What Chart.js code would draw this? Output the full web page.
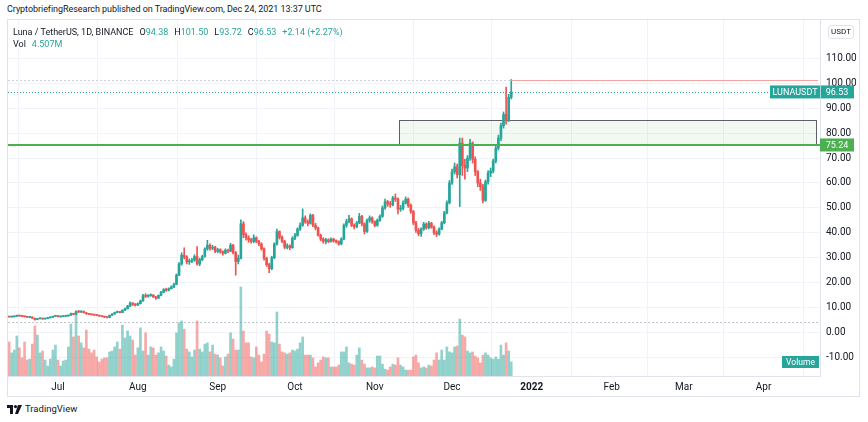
<!DOCTYPE html>
<html>
<head>
<meta charset="utf-8">
<script src="https://cdn.jsdelivr.net/npm/chart.js@4.4.1/dist/chart.umd.min.js"></script>
<style>
  body { margin: 0; width: 868px; height: 422px; background: #fff; position: relative; overflow: hidden;
         font-family: Roboto, "Liberation Sans", sans-serif; color: #131722; }
  #title { position: absolute; left: 7px; top: 4px; font-size: 9px; letter-spacing: -0.05px; white-space: nowrap; }
  #frame { position: absolute; left: 7px; top: 19px; width: 853px; height: 378px; border: 1px solid #e0e3eb; box-sizing: border-box; }
  #wrap { position: absolute; left: 8px; top: 20px; width: 852px; height: 375px; }
  #legend { position: absolute; left: 13px; top: 26px; font-size: 9px; line-height: 12px; white-space: nowrap; }
  #legend .v { color: #26a69a; }
  #legend span.k { margin-left: 6px; }
  #usdt { position: absolute; left: 828px; top: 25px; width: 24px; height: 12px; border: 1px solid #e0e3eb; border-radius: 3px;
          font-size: 8px; line-height: 12px; text-align: center; background: #fff; }
  #tv { position: absolute; left: 7px; top: 403px; font-size: 9.5px; line-height: 12px; display: flex; align-items: center; gap: 3px; }
</style>
</head>
<body>
<div id="title">CryptobriefingResearch published on TradingView.com, Dec 24, 2021 13:37 UTC</div>
<div id="frame"></div>
<div id="wrap"><canvas id="myChart"></canvas></div>
<div id="legend">
  <div>Luna / TetherUS, 1D, BINANCE<span class="k">O<span class="v">94.38</span></span><span class="k">H<span class="v">101.50</span></span><span class="k">L<span class="v">93.72</span></span><span class="k">C<span class="v">96.53</span></span><span class="k v">+2.14 (+2.27%)</span></div>
  <div>Vol<span class="k v">4.507M</span></div>
</div>
<div id="usdt">USDT</div>
<div id="tv">
  <svg width="15" height="9" viewBox="0 0 15 9"><rect x="0" y="0" width="6" height="3" fill="#131722"/><rect x="3" y="0" width="3" height="9" fill="#131722"/><circle cx="8.5" cy="1.6" r="1.6" fill="#131722"/><polygon points="11,0 15,0 11,9 8,9" fill="#131722"/></svg>
  <span>TradingView</span>
</div>
<script>
// daily candles, LUNA/USDT, Jun 12 2021 (day 0) .. Dec 24 2021 (day 195)
const firstOpen = 6.35;
const closes = [
  6.2, 6.3, 6.5, 6.8, 6.6, 6.5, 6.3, 6.1, 6.2, 5.7,
  5.2, 5.5, 5.7, 5.4, 5.6, 5.9, 6.1, 6.5, 6.7, 6.3,
  6.4, 6.5, 6.6, 6.9, 7.6, 7.3, 8.4, 8.2, 8.5, 7.9,
  7.5, 7.3, 7.1, 7.0, 6.8, 6.6, 6.4, 6.2, 6.0, 6.9,
  7.4, 8.0, 8.3, 8.0, 8.9, 9.5, 10.6, 11.8, 11.3, 11.0,
  11.6, 12.7, 14.8, 14.5, 14.8, 15.0, 14.3, 13.8, 14.9, 16.1,
  17.2, 16.9, 17.6, 18.3, 19.3, 23.0, 27.5, 31.0, 30.3, 28.3,
  28.6, 29.0, 30.5, 27.5, 29.2, 30.5, 33.5, 35.0, 33.8, 34.2,
  32.6, 33.2, 32.4, 31.8, 33.0, 32.6, 35.0, 32.0, 28.5, 29.8,
  43.6, 39.2, 38.0, 37.2, 36.5, 38.0, 36.6, 35.5, 33.6, 29.8,
  27.2, 25.6, 30.0, 35.5, 40.5, 38.2, 36.6, 34.2, 34.8, 34.0,
  37.8, 39.0, 41.5, 43.0, 46.0, 44.4, 43.8, 47.0, 43.0, 42.0,
  39.0, 37.5, 36.5, 37.2, 36.5, 37.5, 36.8, 36.5, 35.5, 37.5,
  43.0, 44.5, 45.6, 43.0, 42.5, 44.0, 46.6, 43.6, 40.5, 45.0,
  46.0, 44.5, 43.0, 45.0, 46.6, 50.0, 52.5, 51.5, 51.2, 54.0,
  53.5, 49.5, 49.8, 52.0, 53.5, 51.0, 48.5, 44.0, 41.0, 39.6,
  41.5, 43.5, 42.0, 43.8, 42.3, 40.0, 39.5, 41.5, 44.0, 48.0,
  52.0, 60.0, 64.5, 66.5, 63.3, 76.0, 67.0, 66.0, 70.0, 76.0,
  69.5, 64.5, 60.0, 58.5, 53.0, 60.5, 64.0, 64.8, 68.8, 74.0,
  78.0, 83.0, 87.5, 85.0, 94.38, 96.53
];
const highs = [
  6.5, 6.45, 6.6, 7.0, 6.9, 6.7, 6.6, 6.4, 6.3, 6.25,
  5.8, 5.6, 5.8, 5.75, 5.7, 6.0, 6.2, 6.6, 6.9, 6.8,
  6.5, 6.6, 6.7, 7.0, 7.8, 7.7, 8.7, 8.8, 8.7, 8.6,
  8.0, 7.6, 7.4, 7.2, 7.1, 6.9, 6.7, 6.5, 6.3, 7.0,
  7.6, 8.2, 8.6, 8.5, 9.1, 9.8, 10.9, 12.3, 12.0, 11.6,
  11.9, 13.0, 15.3, 15.6, 15.2, 15.5, 15.2, 14.5, 15.1, 16.5,
  17.6, 17.8, 17.9, 18.7, 19.8, 23.5, 28.0, 32.0, 34.0, 30.8,
  29.5, 29.8, 31.2, 34.5, 29.8, 31.0, 34.0, 37.0, 35.6, 35.0,
  34.6, 33.8, 33.6, 32.8, 33.6, 33.5, 35.8, 35.4, 32.5, 31.0,
  45.2, 44.5, 40.0, 38.8, 37.8, 39.2, 38.4, 37.0, 36.0, 34.0,
  30.2, 27.8, 30.6, 36.0, 41.5, 40.8, 38.8, 37.0, 35.6, 35.2,
  38.4, 39.8, 42.0, 44.0, 49.6, 46.8, 45.2, 47.6, 47.4, 43.8,
  42.3, 39.5, 38.0, 37.8, 37.6, 38.0, 37.8, 37.2, 36.8, 38.0,
  43.6, 45.4, 47.0, 46.0, 43.6, 44.6, 47.8, 47.0, 44.0, 45.6,
  46.8, 46.4, 44.8, 45.6, 47.2, 50.8, 53.5, 53.0, 52.6, 54.6,
  55.6, 54.0, 51.0, 52.8, 54.4, 54.0, 51.6, 49.0, 44.6, 41.8,
  42.0, 44.2, 44.0, 44.6, 44.2, 42.8, 40.8, 42.0, 44.6, 48.6,
  52.8, 61.0, 65.6, 68.0, 67.6, 78.0, 78.0, 69.5, 71.0, 77.5,
  76.5, 70.5, 65.0, 61.5, 59.5, 61.2, 65.0, 66.0, 69.6, 74.8,
  79.2, 84.0, 88.5, 98.5, 95.6, 101.5
];
const lows = [
  6.1, 6.1, 6.2, 6.4, 6.5, 6.3, 6.2, 6.0, 5.9, 5.6,
  4.9, 5.1, 5.4, 5.3, 5.3, 5.5, 5.8, 6.0, 6.4, 6.2,
  6.1, 6.3, 6.4, 6.5, 6.8, 7.1, 7.2, 8.0, 8.0, 7.8,
  7.3, 7.1, 7.0, 6.8, 6.7, 6.5, 6.3, 6.0, 5.8, 5.9,
  6.8, 7.3, 7.9, 7.8, 7.9, 8.7, 9.4, 10.4, 10.8, 10.6,
  10.8, 11.4, 12.5, 14.0, 14.2, 14.5, 14.0, 13.3, 13.6, 14.7,
  15.9, 16.5, 16.7, 17.4, 18.0, 19.1, 22.8, 27.0, 29.5, 27.5,
  27.3, 28.0, 28.6, 27.0, 26.8, 28.8, 30.2, 33.0, 33.0, 33.2,
  32.0, 32.0, 31.8, 31.0, 31.5, 32.0, 32.4, 31.5, 23.0, 27.5,
  29.5, 38.0, 37.0, 36.2, 35.8, 36.0, 36.0, 34.8, 33.0, 29.0,
  26.5, 24.0, 25.2, 29.6, 35.0, 37.5, 36.0, 33.6, 33.5, 33.2,
  33.8, 37.2, 38.6, 41.0, 42.6, 43.8, 42.8, 43.5, 42.5, 41.2,
  38.6, 36.8, 35.8, 35.5, 36.0, 36.2, 36.2, 35.8, 35.0, 35.2,
  37.2, 42.2, 44.0, 42.5, 41.6, 42.0, 43.6, 42.8, 39.5, 40.2,
  44.2, 43.8, 42.4, 42.6, 44.6, 46.2, 49.4, 50.6, 50.2, 50.8,
  52.6, 47.6, 48.6, 49.2, 51.5, 50.2, 47.8, 43.2, 40.2, 38.8,
  38.5, 41.0, 41.4, 41.6, 41.8, 39.2, 38.5, 39.0, 41.2, 43.6,
  47.6, 51.6, 59.4, 63.6, 62.0, 50.5, 63.0, 61.5, 64.5, 69.0,
  68.0, 63.0, 58.5, 57.0, 52.0, 52.6, 59.5, 62.5, 64.0, 68.0,
  73.2, 77.0, 82.0, 83.6, 84.6, 93.72
];
// volume, millions
const volumes = [
  10.9, 7.4, 8.3, 12.8, 9.0, 5.8, 10.9, 5.1, 5.4, 10.2,
  16.0, 13.1, 7.4, 8.0, 5.1, 3.2, 5.4, 8.3, 9.9, 5.1,
  3.2, 4.8, 5.1, 9.3, 16.6, 12.5, 20.2, 12.8, 10.6, 9.0,
  14.7, 8.6, 7.4, 8.3, 6.1, 4.5, 5.4, 5.8, 5.8, 7.7,
  8.0, 9.3, 10.9, 8.6, 16.3, 12.2, 14.4, 12.8, 11.5, 6.7,
  9.0, 15.4, 8.0, 13.8, 6.7, 9.3, 9.0, 6.7, 7.4, 9.3,
  8.0, 6.4, 3.5, 2.9, 5.4, 13.8, 17.0, 17.6, 15.0, 8.6,
  7.7, 6.1, 8.3, 17.6, 8.6, 7.7, 10.2, 10.6, 7.7, 9.9,
  7.0, 6.7, 5.8, 3.2, 6.1, 7.0, 13.8, 11.8, 8.3, 8.3,
  28.5, 14.4, 10.6, 10.6, 6.1, 5.8, 9.3, 6.7, 4.5, 7.0,
  14.4, 13.4, 10.9, 10.6, 20.5, 10.2, 7.7, 7.4, 7.0, 7.4,
  8.3, 8.0, 8.6, 10.6, 12.5, 6.7, 6.7, 6.7, 5.8, 2.9,
  4.2, 5.1, 6.1, 5.8, 5.8, 2.9, 2.9, 2.9, 3.5, 7.7,
  7.7, 9.3, 4.2, 3.8, 3.5, 6.7, 9.0, 5.1, 3.8, 2.6,
  2.6, 2.9, 2.6, 6.4, 6.4, 3.8, 2.2, 1.9, 2.9, 3.8,
  3.5, 5.8, 3.5, 2.9, 1.9, 1.9, 1.9, 6.1, 6.7, 4.2,
  2.6, 2.9, 2.6, 3.5, 3.2, 5.1, 7.4, 5.1, 8.3, 5.1,
  9.3, 7.7, 7.4, 9.3, 9.6, 18.2, 13.1, 12.5, 8.0, 7.4,
  7.7, 6.4, 5.8, 4.2, 6.7, 7.4, 6.7, 5.8, 5.4, 6.1,
  5.4, 9.9, 6.7, 10.6, 8.0, 4.507
];

const monthDays = [19, 50, 81, 111, 142, 172, 203, 234, 262, 293];
const monthLabels = ["Jul", "Aug", "Sep", "Oct", "Nov", "Dec", "2022", "Feb", "Mar", "Apr"];
const priceTicks = [-10, 0, 10, 20, 30, 40, 50, 60, 70, 80, 90, 100, 110];

const supportLevel = 75.24;
const zoneTop = 85.1;
const zoneStart = 151.4;
const zoneEnd = 313.4;
const highLevel = 101.5;
const lastPrice = 96.53;
const dottedLevel = 4.4;

const upColor = "#26a69a";
const downColor = "#ef5350";

const days = closes.map((c, i) => i);
const opens = closes.map((c, i) => (i === 0 ? firstOpen : closes[i - 1]));
const isUp = closes.map((c, i) => c >= opens[i]);

const overlay = {
    id: "overlay",
    beforeDatasetsDraw(chart) {
        const { ctx, chartArea: a, scales: { x, y } } = chart;
        ctx.save();
        ctx.beginPath();
        ctx.rect(a.left, a.top, a.right - a.left, a.bottom - a.top);
        ctx.clip();
        // demand zone
        const zx0 = Math.round(x.getPixelForValue(zoneStart)) + 0.5;
        const zx1 = Math.round(x.getPixelForValue(zoneEnd)) + 0.5;
        const zy0 = Math.round(y.getPixelForValue(zoneTop)) + 0.5;
        const zy1 = Math.round(y.getPixelForValue(supportLevel)) + 0.5;
        ctx.fillStyle = "rgba(76, 175, 80, 0.07)";
        ctx.fillRect(zx0, zy0, zx1 - zx0, zy1 - zy0);
        ctx.strokeStyle = "#5d606b";
        ctx.lineWidth = 1;
        ctx.strokeRect(zx0, zy0, zx1 - zx0, zy1 - zy0);
        // dotted levels
        ctx.setLineDash([2, 2]);
        ctx.strokeStyle = "#c3c6ce";
        let py = Math.round(y.getPixelForValue(dottedLevel)) + 0.5;
        ctx.beginPath(); ctx.moveTo(a.left, py); ctx.lineTo(a.right, py); ctx.stroke();
        py = Math.round(y.getPixelForValue(highLevel)) + 0.5;
        ctx.strokeStyle = "#d1d4dc";
        ctx.beginPath(); ctx.moveTo(a.left, py); ctx.lineTo(x.getPixelForValue(195), py); ctx.stroke();
        ctx.strokeStyle = upColor;
        ctx.setLineDash([1, 2]);
        py = Math.round(y.getPixelForValue(lastPrice)) + 0.5;
        ctx.beginPath(); ctx.moveTo(a.left, py); ctx.lineTo(a.right, py); ctx.stroke();
        ctx.restore();
    },
    afterDatasetsDraw(chart) {
        const { ctx, chartArea: a, scales: { x, y } } = chart;
        ctx.save();
        // high ray
        let py = Math.round(y.getPixelForValue(highLevel)) + 0.5;
        ctx.strokeStyle = "#f4a3a1";
        ctx.lineWidth = 1;
        ctx.beginPath(); ctx.moveTo(x.getPixelForValue(195), py); ctx.lineTo(x.getPixelForValue(zoneEnd) + 2, py); ctx.stroke();
        // support line
        py = y.getPixelForValue(supportLevel);
        ctx.strokeStyle = "#4caf50";
        ctx.lineWidth = 2;
        ctx.beginPath(); ctx.moveTo(a.left, py); ctx.lineTo(a.right, py); ctx.stroke();
        ctx.restore();
    },
    afterDraw(chart) {
        const { ctx, chartArea: a, scales: { y } } = chart;
        ctx.save();
        ctx.font = "9px Roboto, 'Liberation Sans', sans-serif";
        ctx.textBaseline = "middle";
        ctx.textAlign = "center";
        // last price labels
        let py = y.getPixelForValue(lastPrice);
        ctx.fillStyle = upColor;
        ctx.fillRect(a.right - 50, py - 6.5, 50, 13);
        ctx.fillRect(a.right, py - 6.5, 34, 13);
        ctx.fillStyle = "#fff";
        ctx.fillText("LUNAUSDT", a.right - 25, py + 0.5);
        ctx.fillText(lastPrice.toFixed(2), a.right + 17, py + 0.5);
        ctx.fillStyle = "rgba(255,255,255,0.6)";
        ctx.fillRect(a.right, py - 6.5, 1, 13);
        // support label
        py = y.getPixelForValue(supportLevel);
        ctx.fillStyle = "#4caf50";
        ctx.fillRect(a.right, py - 6.5, 34, 13);
        ctx.fillStyle = "#fff";
        ctx.fillText(supportLevel.toFixed(2), a.right + 17, py + 0.5);
        // volume label
        ctx.fillStyle = upColor;
        ctx.fillRect(a.right - 38, a.bottom - 20, 37, 12);
        ctx.fillStyle = "#fff";
        ctx.font = "8.5px Roboto, 'Liberation Sans', sans-serif";
        ctx.fillText("Volume", a.right - 19.5, a.bottom - 13.5);
        ctx.restore();
    }
};

const ctx = document.getElementById("myChart");

new Chart(ctx, {
    type: "bar",
    data: {
        datasets: [{
            label: "Volume",
            data: days.map((d) => ({ x: d, y: volumes[d] })),
            yAxisID: "yv",
            backgroundColor: isUp.map((u) => (u ? "rgba(38, 166, 154, 0.5)" : "rgba(239, 83, 80, 0.5)")),
            barThickness: 2,
            grouped: false,
            order: 3,
        }, {
            label: "Wicks",
            data: days.map((d) => ({ x: d, y: [lows[d], highs[d]] })),
            backgroundColor: isUp.map((u) => (u ? upColor : downColor)),
            barThickness: 1,
            grouped: false,
            order: 2,
        }, {
            label: "LUNAUSDT",
            data: days.map((d) => ({ x: d, y: [opens[d], closes[d]] })),
            backgroundColor: isUp.map((u) => (u ? upColor : downColor)),
            barThickness: 2,
            minBarLength: 1,
            grouped: false,
            order: 1,
        }],
    },
    options: {
        responsive: true,
        maintainAspectRatio: false,
        animation: false,
        layout: { padding: 0 },
        plugins: { legend: { display: false }, tooltip: { enabled: false } },
        scales: {
            x: {
                type: "linear",
                min: -0.43,
                max: 314.9,
                offset: false,
                afterBuildTicks: (scale) => { scale.ticks = monthDays.map((v) => ({ value: v })); },
                afterFit: (scale) => { scale.height = 19; scale.paddingLeft = 0; scale.paddingRight = 0; },
                ticks: {
                    autoSkip: false,
                    maxRotation: 0,
                    padding: 5,
                    color: "#131722",
                    font: (c) => ({ size: 10, family: "Roboto", weight: c.tick && c.tick.value === 203 ? "bold" : "normal" }),
                    callback: (v) => monthLabels[monthDays.indexOf(v)],
                },
                grid: { color: "#f0f3fa", drawTicks: false },
                border: { color: "#e0e3eb" },
            },
            y: {
                position: "right",
                min: -17.47,
                max: 125.4,
                afterBuildTicks: (scale) => { scale.ticks = priceTicks.map((v) => ({ value: v })); },
                afterFit: (scale) => { scale.width = 40; scale.paddingTop = 0; scale.paddingBottom = 0; },
                ticks: {
                    padding: 6,
                    color: "#131722",
                    font: { size: 10, family: "Roboto" },
                    callback: (v) => v.toFixed(2),
                },
                grid: { color: "#f0f3fa", drawTicks: false },
                border: { color: "#e0e3eb" },
            },
            yv: {
                display: false,
                min: 0,
                max: 113.9,
            },
        },
    },
    plugins: [overlay],
});
</script>
</body>
</html>
